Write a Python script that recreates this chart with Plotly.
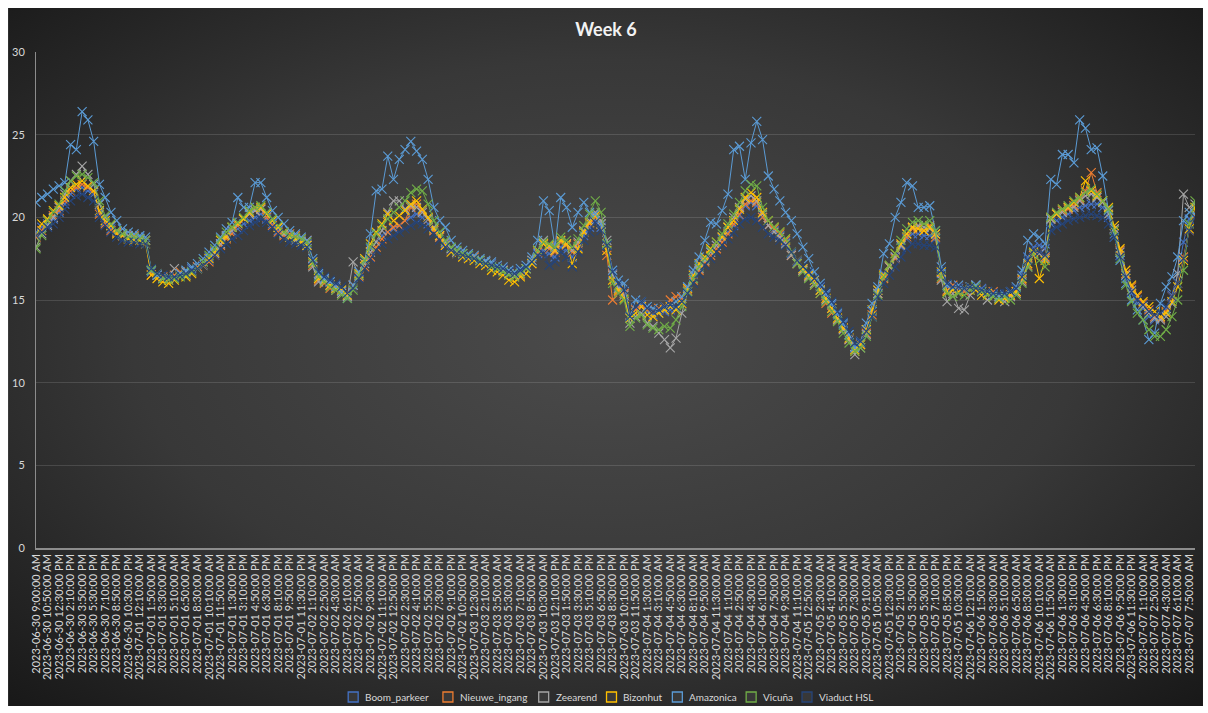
import base64
import datetime
import plotly.graph_objects as go

# ---------------- data ----------------
SERIES_NAMES = ["Boom_parkeer", "Nieuwe_ingang", "Zeearend", "Bizonhut",
                "Amazonica", "Vicuña", "Viaduct HSL"]
SERIES_COLORS = ["#4472C4", "#ED7D31", "#A5A5A5", "#FFC000",
                 "#5B9BD5", "#70AD47", "#264478"]

boom_parkeer = [
    19.1, 19.4, 19.6, 19.9, 20.3, 20.8, 21.4, 21.7, 21.8, 21.6,
    21.4, 20.3, 19.7, 19.3, 19.1, 18.9, 18.8, 18.7, 18.8, 18.6,
    16.7, 16.5, 16.3, 16.3, 16.4, 16.5, 16.6, 16.9, 17.0, 17.3,
    17.6, 18.0, 18.4, 18.8, 19.1, 19.3, 19.6, 19.8, 20.0, 20.2,
    19.9, 19.6, 19.2, 19.0, 18.8, 18.7, 18.6, 18.4, 17.3, 16.5,
    16.3, 16.1, 15.9, 15.6, 15.3, 15.9, 16.7, 17.4, 18.1, 18.5,
    18.9, 19.1, 19.3, 19.5, 19.8, 20.0, 20.2, 20.0, 19.6, 19.2,
    18.8, 18.4, 18.1, 17.9, 17.8, 17.7, 17.5, 17.4, 17.3, 17.2,
    17.0, 16.9, 16.7, 16.6, 16.7, 16.9, 17.4, 17.8, 18.0, 17.8,
    17.6, 18.2, 18.0, 17.6, 18.2, 18.9, 19.4, 19.8, 19.4, 18.3,
    16.6, 15.8, 15.4, 13.9, 14.4, 14.7, 14.3, 14.1, 14.2, 14.3,
    14.4, 14.5, 14.9, 15.8, 16.6, 17.1, 17.5, 17.9, 18.3, 18.7,
    19.1, 19.5, 20.1, 20.7, 20.9, 20.7, 20.0, 19.5, 19.2, 18.9,
    18.5, 17.8, 17.3, 16.9, 16.6, 16.2, 15.8, 15.3, 14.7, 14.1,
    13.5, 12.9, 12.2, 12.4, 13.2, 14.3, 15.6, 16.6, 17.1, 17.6,
    18.2, 18.7, 19.0, 19.0, 18.9, 18.9, 18.7, 16.6, 15.8, 15.7,
    15.7, 15.6, 15.8, 15.9, 15.7, 15.5, 15.4, 15.3, 15.3, 15.5,
    15.7, 16.5, 17.6, 18.2, 18.3, 18.1, 19.6, 19.8, 20.0, 20.2,
    20.4, 20.6, 20.7, 20.8, 20.8, 20.6, 20.0, 19.0, 17.7, 16.3,
    15.4, 14.8, 14.5, 14.0, 13.8, 13.9, 14.5, 15.3, 16.6, 18.5,
    19.9, 20.2,
]

nieuwe_ingang = [
    18.8, 19.2, 19.8, 20.1, 20.4, 21.0, 21.6, 21.8, 22.0, 21.8,
    21.6, 20.2, 19.6, 19.2, 19.1, 18.9, 18.8, 18.9, 18.7, 18.6,
    16.5, 16.6, 16.4, 16.2, 16.5, 16.7, 16.5, 16.7, 17.0, 17.1,
    17.3, 17.7, 18.3, 18.7, 19.0, 19.5, 19.9, 20.3, 20.4, 20.5,
    20.0, 19.5, 19.1, 18.9, 19.0, 18.9, 18.7, 18.6, 17.1, 16.2,
    16.0, 15.7, 15.8, 15.4, 15.4, 15.9, 16.4, 17.0, 17.6, 18.2,
    18.7, 19.1, 19.4, 19.5, 19.8, 20.6, 20.8, 20.4, 19.9, 19.2,
    18.8, 18.3, 18.0, 17.9, 17.7, 17.6, 17.6, 17.3, 17.2, 17.1,
    17.0, 16.8, 16.6, 16.4, 16.5, 16.9, 17.2, 17.9, 18.4, 18.1,
    17.9, 18.5, 18.3, 17.9, 18.4, 19.1, 19.6, 20.0, 19.6, 17.7,
    15.0, 15.5, 15.4, 14.0, 14.4, 14.6, 14.4, 14.3, 14.5, 14.6,
    15.0, 15.2, 15.1, 15.6, 16.2, 16.8, 17.3, 17.7, 18.1, 18.5,
    19.0, 19.6, 20.2, 20.8, 21.0, 20.9, 20.0, 19.5, 19.3, 19.0,
    18.6, 17.7, 17.2, 16.8, 16.4, 15.9, 15.4, 14.8, 14.2, 13.8,
    13.3, 12.6, 11.9, 12.3, 13.0, 14.1, 15.4, 16.3, 17.0, 17.5,
    18.3, 18.8, 19.3, 19.4, 19.2, 19.5, 18.8, 16.3, 15.6, 15.9,
    15.8, 15.5, 15.6, 15.7, 15.6, 15.3, 15.5, 15.2, 15.1, 15.3,
    15.5, 16.2, 17.1, 17.7, 17.9, 17.6, 19.9, 20.2, 20.4, 20.5,
    20.7, 21.1, 21.6, 22.7, 21.5, 21.0, 20.4, 19.3, 18.0, 16.6,
    15.8, 15.2, 14.8, 14.4, 14.0, 13.9, 14.3, 15.2, 16.0, 17.6,
    19.2, 20.2,
]

zeearend = [
    18.2, 19.0, 19.5, 20.0, 20.6, 21.4, 22.2, 22.6, 23.1, 22.6,
    22.0, 20.8, 20.0, 19.5, 19.2, 19.0, 18.9, 18.8, 18.7, 18.6,
    16.8, 16.5, 16.3, 16.4, 16.9, 16.6, 16.7, 16.8, 16.9, 17.1,
    17.4, 17.8, 18.4, 18.9, 19.2, 19.6, 19.9, 20.2, 20.4, 20.5,
    20.2, 19.8, 19.4, 19.0, 18.8, 18.6, 18.5, 18.3, 17.0, 16.1,
    16.2, 15.9, 15.6, 15.4, 15.2, 17.3, 16.5, 17.2, 17.9, 18.5,
    19.2, 20.3, 21.0, 21.0, 20.5, 20.7, 20.6, 20.3, 19.9, 19.4,
    18.9, 18.5, 18.1, 17.9, 17.8, 17.6, 17.5, 17.4, 17.3, 17.1,
    17.0, 16.8, 16.6, 16.5, 16.6, 16.9, 17.4, 18.0, 18.6, 18.2,
    18.0, 18.6, 18.4, 18.0, 18.5, 19.2, 19.8, 20.3, 19.8, 18.6,
    16.5, 15.7, 15.3, 13.6, 14.0, 14.2, 13.6, 13.4, 13.0, 12.6,
    12.1, 12.7, 14.2, 15.5, 16.3, 16.9, 17.4, 17.9, 18.3, 18.8,
    19.4, 20.0, 20.6, 21.1, 21.3, 21.0, 20.2, 19.5, 19.1, 18.8,
    18.4, 17.7, 17.2, 16.8, 16.4, 16.0, 15.6, 15.0, 14.5, 13.8,
    13.2, 12.6, 11.7, 12.1, 12.9, 14.0, 15.4, 16.4, 17.0, 17.6,
    18.3, 19.0, 19.4, 19.5, 19.4, 19.3, 19.0, 16.2, 14.9, 15.4,
    14.5, 14.4, 15.3, 15.9, 15.5, 15.0, 15.2, 15.1, 14.9, 15.2,
    15.4, 16.1, 17.0, 17.8, 17.8, 17.5, 19.9, 20.2, 20.3, 20.6,
    20.6, 21.0, 21.3, 21.4, 21.2, 20.9, 20.2, 19.3, 17.9, 16.5,
    15.6, 15.0, 14.6, 14.2, 13.9, 13.8, 14.0, 14.8, 16.6, 21.4,
    20.6, 20.8,
]

bizonhut = [
    18.9, 19.6, 19.9, 20.4, 20.7, 21.2, 21.8, 22.0, 22.2, 21.9,
    21.6, 20.4, 19.8, 19.5, 19.0, 18.9, 18.7, 18.6, 18.6, 18.4,
    16.5, 16.3, 16.1, 16.0, 16.2, 16.5, 16.4, 16.6, 16.9, 17.1,
    17.5, 17.9, 18.6, 18.8, 19.4, 19.6, 19.9, 20.3, 20.6, 20.6,
    20.2, 19.8, 19.4, 19.1, 18.8, 18.7, 18.5, 18.3, 17.3, 16.3,
    16.1, 15.9, 15.7, 15.6, 15.3, 15.7, 16.6, 17.5, 18.4, 19.1,
    19.6, 20.2, 19.8, 20.1, 20.4, 20.8, 21.0, 20.5, 20.0, 19.3,
    18.9, 18.3, 17.9, 17.8, 17.6, 17.5, 17.4, 17.2, 17.1, 16.8,
    16.7, 16.5, 16.2, 16.1, 16.4, 16.6, 17.2, 18.0, 18.4, 18.3,
    18.0, 18.6, 18.4, 17.2, 18.1, 19.1, 19.7, 20.1, 19.6, 18.0,
    16.2, 15.6, 15.1, 13.9, 14.2, 14.6, 14.1, 14.0, 14.2, 14.4,
    14.6, 14.4, 14.8, 15.7, 16.5, 17.2, 17.6, 18.1, 18.5, 18.8,
    19.4, 19.8, 20.5, 21.2, 21.5, 21.2, 20.3, 19.8, 19.4, 19.1,
    18.7, 17.9, 17.4, 16.9, 16.5, 16.2, 15.6, 15.1, 14.5, 13.9,
    13.3, 12.7, 12.0, 12.3, 13.2, 14.4, 15.6, 16.5, 17.1, 17.8,
    18.4, 19.0, 19.4, 19.3, 19.2, 19.4, 19.0, 16.7, 15.5, 15.6,
    15.5, 15.7, 15.8, 15.6, 15.3, 15.4, 15.2, 15.0, 15.1, 15.3,
    15.5, 16.3, 17.2, 17.9, 16.3, 17.4, 20.0, 20.2, 20.5, 20.6,
    20.9, 21.2, 22.2, 21.6, 21.3, 21.0, 20.6, 19.5, 18.1, 16.8,
    15.9, 15.3, 14.9, 14.6, 14.3, 14.0, 14.2, 14.9, 15.8, 17.4,
    19.3, 20.6,
]

amazonica = [
    20.9, 21.2, 21.4, 21.7, 21.9, 22.1, 24.4, 24.1, 26.4, 25.9,
    24.6, 22.0, 21.2, 20.3, 19.8, 19.3, 19.1, 19.0, 18.9, 18.8,
    16.8, 16.5, 16.3, 16.4, 16.4, 16.6, 16.8, 17.0, 17.2, 17.5,
    17.9, 18.3, 18.8, 19.3, 19.7, 21.2, 20.6, 20.6, 22.1, 22.1,
    21.2, 20.4, 20.0, 19.6, 19.2, 19.0, 18.8, 18.6, 17.5, 16.6,
    16.3, 16.1, 15.8, 15.5, 15.1, 15.9, 16.7, 17.4, 19.0, 21.6,
    21.7, 23.7, 22.3, 23.5, 24.1, 24.6, 24.0, 23.5, 22.3, 20.6,
    19.8, 19.4, 18.6, 18.2, 18.0, 17.8, 17.7, 17.5, 17.4, 17.3,
    17.1, 17.0, 16.8, 16.7, 16.9, 17.1, 17.6, 18.6, 21.0, 20.4,
    18.2, 21.2, 20.6, 19.4, 20.3, 20.9, 20.3, 20.2, 19.6, 18.4,
    16.8, 16.2, 16.0, 14.0, 15.0, 14.9, 14.6, 14.5, 14.4, 14.6,
    14.7, 14.9, 15.2, 15.8, 16.8, 17.6, 18.6, 19.7, 19.6, 20.4,
    21.4, 24.1, 24.3, 22.3, 24.5, 25.8, 24.7, 22.5, 21.7, 21.0,
    20.3, 19.8, 19.0, 18.2, 17.5, 16.7, 16.0, 15.4, 14.8, 14.2,
    13.6, 12.9, 12.1, 12.5, 13.6, 14.8, 15.8, 17.8, 18.4, 20.0,
    20.9, 22.1, 21.9, 20.6, 20.6, 20.7, 19.2, 17.0, 15.9, 15.8,
    15.9, 15.7, 15.8, 15.9, 15.6, 15.5, 15.3, 15.2, 15.3, 15.5,
    15.8, 16.8, 18.6, 19.0, 18.8, 18.4, 22.3, 22.0, 23.8, 23.8,
    23.3, 25.9, 25.4, 24.1, 24.2, 22.5, 20.4, 18.8, 17.4, 16.0,
    15.0, 14.4, 13.8, 12.6, 13.0, 14.8, 15.8, 16.4, 17.6, 19.8,
    20.3, 20.2,
]

vicuna = [
    18.1, 18.9, 19.8, 20.3, 20.8, 21.6, 22.2, 22.5, 22.6, 22.4,
    22.1, 21.0, 20.1, 19.6, 19.2, 19.0, 18.8, 18.8, 18.7, 18.6,
    16.8, 16.6, 16.3, 16.2, 16.3, 16.4, 16.5, 16.7, 16.9, 17.3,
    17.7, 18.1, 18.7, 19.1, 19.4, 19.7, 20.0, 20.4, 20.6, 20.7,
    20.3, 19.9, 19.5, 19.1, 18.9, 18.8, 18.7, 18.5, 17.2, 16.4,
    16.1, 15.8, 15.6, 15.3, 15.1, 15.6, 16.5, 17.4, 18.2, 19.0,
    19.5, 19.9, 20.3, 20.6, 21.0, 21.5, 21.7, 21.6, 20.8, 19.8,
    19.1, 18.6, 18.2, 18.0, 17.8, 17.7, 17.5, 17.4, 17.2, 17.0,
    16.9, 16.7, 16.5, 16.4, 16.6, 16.9, 17.3, 18.0, 18.5, 18.4,
    18.2, 18.8, 18.6, 18.2, 18.7, 19.5, 20.2, 21.0, 20.3, 18.4,
    16.0, 15.4, 15.0, 13.4, 13.9, 14.1, 13.5, 13.3, 13.2, 13.4,
    13.3, 13.8, 14.6, 15.5, 16.3, 17.0, 17.5, 18.0, 18.5, 19.0,
    19.6, 20.2, 20.9, 21.6, 22.0, 21.9, 20.6, 19.8, 19.4, 19.1,
    18.7, 17.9, 17.2, 16.7, 16.3, 15.9, 15.4, 14.9, 14.3, 13.7,
    13.0, 12.4, 11.9, 12.1, 12.8, 14.0, 15.3, 16.4, 17.1, 17.8,
    18.6, 19.3, 19.7, 19.8, 19.6, 19.8, 19.2, 16.4, 15.4, 15.2,
    15.4, 15.3, 15.6, 15.8, 15.5, 15.3, 15.2, 15.1, 15.2, 15.0,
    15.3, 16.0, 17.0, 17.8, 17.4, 17.0, 20.0, 20.3, 20.5, 20.7,
    21.0, 21.2, 21.5, 21.7, 21.4, 21.0, 20.5, 19.2, 17.5, 15.9,
    14.9, 14.2, 13.8, 13.2, 12.8, 12.8, 13.2, 14.0, 15.0, 16.8,
    19.6, 21.0,
]

viaduct_hsl = [
    18.9, 19.1, 19.4, 19.6, 20.0, 20.5, 21.0, 21.3, 21.4, 21.2,
    21.0, 20.0, 19.5, 19.1, 18.8, 18.6, 18.5, 18.5, 18.4, 18.4,
    16.9, 16.6, 16.5, 16.4, 16.4, 16.5, 16.6, 16.8, 16.9, 17.1,
    17.4, 17.7, 18.1, 18.4, 18.7, 18.9, 19.2, 19.5, 19.7, 19.9,
    19.7, 19.4, 19.0, 18.7, 18.5, 18.4, 18.3, 18.2, 17.4, 16.7,
    16.4, 16.2, 16.0, 15.8, 15.4, 15.7, 16.3, 16.9, 17.5, 18.0,
    18.4, 18.7, 18.9, 19.1, 19.3, 19.5, 19.7, 19.6, 19.3, 19.0,
    18.6, 18.2, 18.0, 17.8, 17.7, 17.6, 17.5, 17.3, 17.2, 17.1,
    17.0, 16.9, 16.7, 16.6, 16.8, 17.0, 17.3, 17.7, 17.8, 17.1,
    17.3, 17.9, 17.6, 17.0, 17.9, 18.6, 19.1, 19.7, 19.2, 18.3,
    16.7, 16.0, 15.6, 14.0, 14.6, 14.9, 14.5, 14.3, 14.4, 14.6,
    14.7, 14.6, 14.9, 15.4, 16.0, 16.6, 17.1, 17.5, 17.9, 18.3,
    18.7, 19.1, 19.6, 19.9, 20.0, 19.8, 19.4, 19.0, 18.8, 18.6,
    18.3, 17.9, 17.4, 17.0, 16.7, 16.3, 15.9, 15.5, 14.9, 14.3,
    13.7, 13.1, 12.4, 12.5, 13.1, 14.0, 15.2, 16.0, 16.5, 17.0,
    17.6, 18.1, 18.4, 18.4, 18.3, 18.3, 18.2, 16.8, 16.0, 15.8,
    15.8, 15.7, 15.8, 15.7, 15.6, 15.5, 15.4, 15.4, 15.4, 15.5,
    15.7, 16.4, 17.4, 18.0, 17.9, 17.7, 19.2, 19.4, 19.6, 19.8,
    19.9, 20.0, 20.1, 20.2, 20.1, 20.0, 19.6, 18.8, 17.6, 16.4,
    15.5, 15.0, 14.7, 14.3, 14.1, 14.2, 14.6, 15.2, 16.0, 17.5,
    19.2, 20.0,
]

SERIES_VALUES = [boom_parkeer, nieuwe_ingang, zeearend, bizonhut,
                 amazonica, vicuna, viaduct_hsl]

# category positions of the samples and the labelled categories
CATEGORY_POS = list(range(len(boom_parkeer)))


def _fmt(d):
    h = d.hour % 12 or 12
    ampm = "AM" if d.hour < 12 else "PM"
    return f"{d:%Y-%m-%d} {h}:{d:%M}:{d:%S} {ampm}"


_first = datetime.datetime(2023, 6, 30, 10, 50)
TICK_LABELS = ["2023-06-30 9:00:00 AM"] + [
    _fmt(_first + datetime.timedelta(minutes=100 * k)) for k in range(100)
]
TICK_POS = [2 * k for k in range(len(TICK_LABELS))]

TITLE = "Week 6"

# ---------------- figure ----------------
W, H = 1208, 713
ML, MR, MT, MB = 33, 13, 52, 165
PW, PH = W - ML - MR, H - MT - MB


def px_x(px):
    return (px - ML) / PW


def px_y(py):
    return (H - MB - py) / PH


FONT = "Lato, 'Open Sans', sans-serif"
TEXT_COLOR = "#d9d9d9"

fig = go.Figure()

for name, color, vals in zip(SERIES_NAMES, SERIES_COLORS, SERIES_VALUES):
    fig.add_trace(go.Scatter(
        x=CATEGORY_POS, y=vals, name=name, mode="lines+markers",
        line=dict(color=color, width=1),
        marker=dict(symbol="x-thin-open", size=9, color=color,
                    line=dict(color=color, width=1.1)),
        showlegend=False, hoverinfo="skip",
    ))

# radial gradient background (Excel dark style)
svg = (
    '<svg xmlns="http://www.w3.org/2000/svg" width="1198" height="698">'
    '<defs><radialGradient id="g" cx="50%" cy="47%" r="72%">'
    '<stop offset="0" stop-color="#4b4b4b"/>'
    '<stop offset="0.55" stop-color="#383838"/>'
    '<stop offset="1" stop-color="#191919"/>'
    '</radialGradient></defs>'
    '<rect width="100%" height="100%" fill="url(#g)"/></svg>'
)
svg_uri = "data:image/svg+xml;base64," + base64.b64encode(svg.encode()).decode()

bg_x0, bg_y0, bg_x1, bg_y1 = 5, 8, 1203, 706
fig.add_layout_image(dict(
    source=svg_uri, xref="paper", yref="paper",
    x=px_x(bg_x0), y=px_y(bg_y0),
    sizex=(bg_x1 - bg_x0) / PW, sizey=(bg_y1 - bg_y0) / PH,
    xanchor="left", yanchor="top", sizing="stretch", layer="below",
))

# legend (square swatch + label, laid out like the original)
LEGEND_BOX_X = [346, 441, 537, 605, 671, 745, 801]
LEGEND_Y = 697
for name, color, bx in zip(SERIES_NAMES, SERIES_COLORS, LEGEND_BOX_X):
    fig.add_shape(type="rect", xref="paper", yref="paper",
                  x0=px_x(bx), x1=px_x(bx + 10),
                  y0=px_y(LEGEND_Y + 5), y1=px_y(LEGEND_Y - 5),
                  line=dict(color=color, width=1.3),
                  fillcolor="rgba(70,70,70,0.5)")
    fig.add_annotation(xref="paper", yref="paper",
                       x=px_x(bx + 15), y=px_y(LEGEND_Y),
                       xanchor="left", yanchor="middle", showarrow=False,
                       text=name,
                       font=dict(family=FONT, size=10, color=TEXT_COLOR))

fig.update_layout(
    width=W, height=H,
    margin=dict(l=ML, r=MR, t=MT, b=MB, pad=0),
    paper_bgcolor="#ffffff",
    plot_bgcolor="rgba(0,0,0,0)",
    font=dict(family=FONT, color=TEXT_COLOR, size=11),
    title=dict(text="<b>" + TITLE + "</b>", x=606 / W, xanchor="center",
               y=1 - 30 / H, yanchor="middle",
               font=dict(family=FONT, size=18, color="#f2f2f2")),
    showlegend=False,
    hovermode=False,
)

fig.update_xaxes(
    range=[0, len(CATEGORY_POS) - 1],
    tickmode="array", tickvals=TICK_POS, ticktext=TICK_LABELS,
    tickangle=-90, tickfont=dict(family=FONT, size=11, color=TEXT_COLOR),
    showgrid=False, zeroline=False,
    showline=True, linecolor="#8c8c8c", linewidth=1.5,
    ticks="",
)
fig.update_yaxes(
    range=[0, 30], dtick=5, tick0=0,
    tickfont=dict(family=FONT, size=11, color=TEXT_COLOR),
    showgrid=True, gridcolor="rgba(255,255,255,0.13)", gridwidth=1,
    zeroline=False, showline=True, linecolor="#8c8c8c", linewidth=1,
    ticks="", ticklabelstandoff=8,
)

fig.write_html(
    "out.html",
    config={"displayModeBar": False},
    post_script="document.body.style.margin='0';document.body.style.overflow='hidden';",
)
